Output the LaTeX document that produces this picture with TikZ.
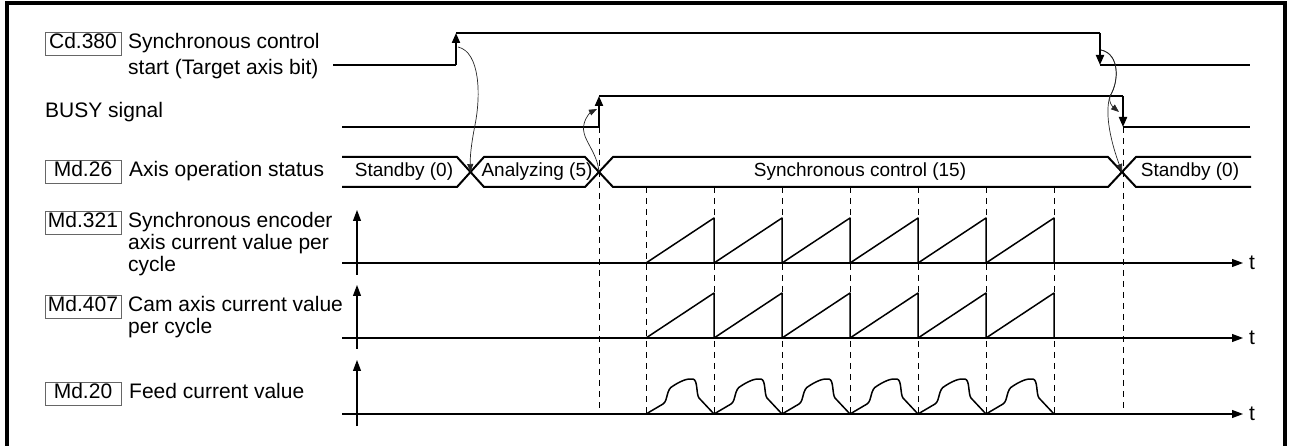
\documentclass[tikz,border=0pt]{standalone}
\usepackage{fontspec}
\setmainfont{Liberation Sans}
\usetikzlibrary{arrows.meta}
\begin{document}
\begin{tikzpicture}[x=1pt,y=-1pt,
  sig/.style={line width=2pt},
  edgearrow/.style={line width=2pt,-{Triangle[length=10pt,width=8pt]}},
  lbl/.style={font=\fontsize{21}{23}\selectfont, inner sep=0pt, anchor=base west},
  tagbox/.style={draw=black!60, line width=0.8pt, font=\fontsize{21}{23}\selectfont, minimum width=76pt, text height=15pt, text depth=4pt, inner xsep=0pt, inner ysep=2pt, anchor=base},
  stat/.style={font=\fontsize{19}{21}\selectfont, inner sep=0pt},
  bus/.style={line width=2pt, line join=miter},
  axarrow/.style={line width=1.1pt,-{Triangle[length=11pt,width=8pt]}},
  guide/.style={line width=1pt, dash pattern=on 6pt off 5pt},
  wave/.style={line width=1.5pt, line join=round},
  cause/.style={line width=0.7pt, draw=black!85, -{Triangle[length=8pt,width=6pt]}},
]
\useasboundingbox (0,0) rectangle (1291,446);
% frame
\draw[line width=3.5pt] (7,460) -- (7,3) -- (1285,3) -- (1285,460);

% labels
\node[tagbox] (cd380) at (83,49) {Cd.380};
\node[lbl] (cd380a) at (128,49) {Synchronous control};
\node[lbl] (cd380b) at (128,75) {start (Target axis bit)};
\node[lbl] (busy) at (45,118) {BUSY signal};
\node[tagbox] (md26) at (83,177) {Md.26};
\node[lbl] (md26t) at (129,177) {Axis operation status};
\node[tagbox] (md321) at (83,228) {Md.321};
\node[lbl] (md321a) at (128,228) {Synchronous encoder};
\node[lbl] (md321b) at (128,250) {axis current value per};
\node[lbl] (md321c) at (128,272) {cycle};
\node[tagbox] (md407) at (83,312) {Md.407};
\node[lbl] (md407a) at (128,312) {Cam axis current value};
\node[lbl] (md407b) at (128,334) {per cycle};
\node[tagbox] (md20) at (83,399) {Md.20};
\node[lbl] (md20t) at (129,399) {Feed current value};

% Cd.380 signal
\coordinate (c0) at (333,65);
\coordinate (c1) at (456,65);
\coordinate (c2) at (456,33);
\coordinate (c3) at (1100,33);
\coordinate (c4) at (1100,65);
\coordinate (c5) at (1250,65);
\draw[sig] (c0) -- (c1);
\draw[edgearrow] (c1) -- (c2);
\draw[sig] (c2) -- (c3);
\draw[edgearrow] (c3) -- (c4);
\draw[sig] (c4) -- (c5);

% BUSY signal
\coordinate (b0) at (342,127);
\coordinate (b1) at (599,127);
\coordinate (b2) at (599,96);
\coordinate (b3) at (1123,96);
\coordinate (b4) at (1123,127);
\coordinate (b5) at (1250,127);
\draw[sig] (b0) -- (b1);
\draw[edgearrow] (b1) -- (b2);
\draw[sig] (b2) -- (b3);
\draw[edgearrow] (b3) -- (b4);
\draw[sig] (b4) -- (b5);

% dashed guides
\draw[guide] (b1) -- (599,414);
\draw[guide] (b4) -- (1123,414);
\foreach \k in {0,...,6} \draw[guide] (646+68*\k,187) -- (646+68*\k,414);

% status bar
\coordinate (x1) at (470.5,172);
\coordinate (x2) at (599,172);
\coordinate (x3) at (1122,172);
\draw[bus] (342,157) -- (457,157) -- (484,187) -- (585,187) -- (613,157) -- (1108,157) -- (1136,187) -- (1251,187);
\draw[bus] (342,187) -- (457,187) -- (484,157) -- (585,157) -- (613,187) -- (1108,187) -- (1136,157) -- (1251,157);
\node[stat] (st0) at (404,172) {Standby (0)};
\node[stat] (st5) at (537,172) {Analyzing (5)};
\node[stat] (st15) at (860,172) {Synchronous control (15)};
\node[stat] (st0b) at (1190,172) {Standby (0)};

% axes
\draw[axarrow] (357,275) -- (357,210);
\draw[axarrow] (342,263) -- (1243,263);
\node[lbl, anchor=west] (t1) at (1249,263) {t};
\draw[axarrow] (357,349) -- (357,285);
\draw[axarrow] (342,338) -- (1243,338);
\node[lbl, anchor=west] (t2) at (1249,338) {t};
\draw[axarrow] (357,426) -- (357,360);
\draw[axarrow] (342,414) -- (1243,414);
\node[lbl, anchor=west] (t3) at (1249,414) {t};

% sawtooth waves
\foreach \yy in {263,338} {
  \foreach \k in {0,...,5} {
    \draw[wave] (646+68*\k,\yy) -- (714+68*\k,\yy-45) -- (714+68*\k,\yy);
  }
}
% feed current value
\foreach \k in {0,...,5} {
  \begin{scope}[shift={(646+68*\k,414)}]
    \draw[wave] (0,0) -- (17,-10) .. controls (22,-13) and (20,-25) .. (27,-28)
      .. controls (33,-32) and (41,-36) .. (47,-35)
      .. controls (52,-34) and (50,-20) .. (53,-16) -- (68,0);
  \end{scope}
}

% cause arrows
\coordinate (a1s) at (458,47);
\coordinate (a2e) at (597,109);
\coordinate (a3s) at (1101,50);
\coordinate (a3e) at (1119,112);
\draw[cause] (a1s) .. controls (480,52) and (481,95) .. (475,125) .. controls (471,145) and (470,158) .. (x1);
\draw[cause] (x2) .. controls (597,150) and (580,138) .. (584,124) .. controls (586,116) and (591,112) .. (a2e);
\draw[cause] (a3s) .. controls (1120,54) and (1119,82) .. (1110,96) .. controls (1108,102) and (1113,107) .. (a3e);
\draw[cause] (a3s) .. controls (1120,54) and (1119,82) .. (1110,96) .. controls (1104,115) and (1112,145) .. (x3);
\end{tikzpicture}
\end{document}
